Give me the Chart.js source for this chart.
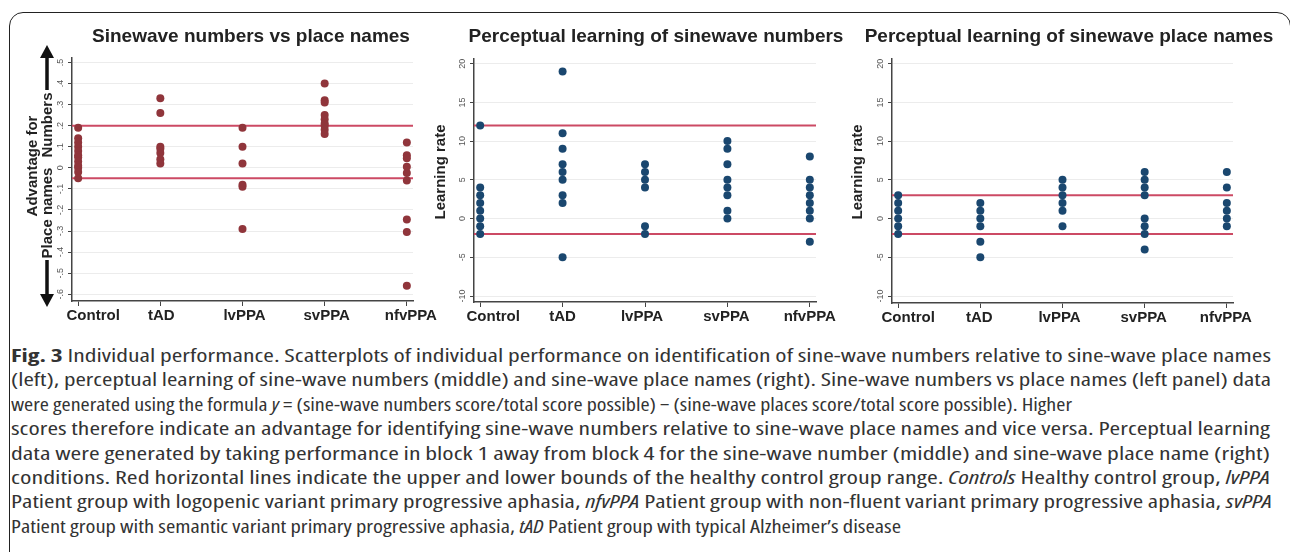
<!DOCTYPE html>
<html lang="en">
<head>
    <meta charset="UTF-8">
    <title>Individual performance</title>
    <script src="https://cdn.jsdelivr.net/npm/chart.js"></script>
    <style>
        body {
            margin: 0;
            width: 1290px;
            height: 552px;
            overflow: hidden;
            background: #fff;
            position: relative;
        }

        .frame {
            position: absolute;
            left: 9px;
            top: 12px;
            width: 1282px;
            height: 700px;
            border: 1.5px solid #222;
            border-radius: 14px;
            box-sizing: border-box;
        }

        canvas {
            position: absolute;
            top: 14px;
        }

        .caption {
            position: absolute;
            left: 11px;
            top: 343px;
            font-family: "Open Sans", sans-serif;
            font-size: 18px;
            font-stretch: 80%;
            color: #333;
        }

        .caption div {
            height: 24.4px;
            line-height: 24.4px;
            white-space: nowrap;
        }

        .caption span.ln {
            display: inline-block;
            transform-origin: left center;
        }
    </style>
</head>
<body>

<div class="frame"></div>

<canvas id="chartAdv" width="430" height="320" style="left: 10px"></canvas>
<canvas id="chartNum" width="440" height="320" style="left: 425px"></canvas>
<canvas id="chartPlace" width="435" height="320" style="left: 850px"></canvas>

<div class="caption" id="caption">
    <div><span class="ln" data-w="1260"><b>Fig. 3</b> Individual performance. Scatterplots of individual performance on identification of sine-wave numbers relative to sine-wave place names</span></div>
    <div><span class="ln" data-w="1260">(left), perceptual learning of sine-wave numbers (middle) and sine-wave place names (right). Sine-wave numbers vs place names (left panel) data</span></div>
    <div><span class="ln" data-w="1061">were generated using the formula <i>y</i> = (sine-wave numbers score/total score possible) − (sine-wave places score/total score possible). Higher</span></div>
    <div><span class="ln" data-w="1259">scores therefore indicate an advantage for identifying sine-wave numbers relative to sine-wave place names and vice versa. Perceptual learning</span></div>
    <div><span class="ln" data-w="1259">data were generated by taking performance in block 1 away from block 4 for the sine-wave number (middle) and sine-wave place name (right)</span></div>
    <div><span class="ln" data-w="1259">conditions. Red horizontal lines indicate the upper and lower bounds of the healthy control group range. <i>Controls</i> Healthy control group, <i>lvPPA</i></span></div>
    <div><span class="ln" data-w="1261">Patient group with logopenic variant primary progressive aphasia, <i>nfvPPA</i> Patient group with non-fluent variant primary progressive aphasia, <i>svPPA</i></span></div>
    <div><span class="ln" data-w="890">Patient group with semantic variant primary progressive aphasia, <i>tAD</i> Patient group with typical Alzheimer’s disease</span></div>
</div>

<script>
    // groups on the x axis
    const groups = ['Control', 'tAD', 'lvPPA', 'svPPA', 'nfvPPA'];

    // left panel: numbers vs place names (one list per group)
    const advControl = [0.19, 0.14, 0.12, 0.10, 0.08, 0.06, 0.05, 0.03, 0.01, 0.00, -0.02, -0.05];
    const advTAD = [0.33, 0.26, 0.10, 0.09, 0.07, 0.04, 0.02];
    const advLvPPA = [0.19, 0.10, 0.02, -0.08, -0.09, -0.29];
    const advSvPPA = [0.40, 0.32, 0.31, 0.25, 0.23, 0.21, 0.20, 0.18, 0.16];
    const advNfvPPA = [0.12, 0.06, 0.045, 0.005, -0.025, -0.06, -0.245, -0.305, -0.56];
    const advRange = [0.2, -0.05];
    const advTicks = [0.5, 0.4, 0.3, 0.2, 0.1, 0, -0.1, -0.2, -0.3, -0.4, -0.5, -0.6];
    const advTickLabels = ['.5', '.4', '.3', '.2', '.1', '0', '-.1', '-.2', '-.3', '-.4', '-.5', '-.6'];

    // middle panel: learning of sinewave numbers
    const numControl = [12, 4, 3, 2, 1, 0, -1, -2];
    const numTAD = [19, 11, 9, 7, 6, 5, 3, 2, -5];
    const numLvPPA = [7, 6, 5, 4, -1, -2];
    const numSvPPA = [10, 9, 7, 5, 4, 3, 1, 0];
    const numNfvPPA = [8, 5, 4, 3, 2, 1, 0, -3];
    const numRange = [12, -2];

    // right panel: learning of sinewave place names
    const plcControl = [3, 2, 1, 0, -1, -2];
    const plcTAD = [2, 1, 0, -1, -3, -5];
    const plcLvPPA = [5, 4, 3, 2, 1, -1];
    const plcSvPPA = [6, 5, 4, 3, 0, -1, -2, -4];
    const plcNfvPPA = [6, 4, 2, 1, 0, -1];
    const plcRange = [3, -2];

    const learnTicks = [20, 15, 10, 5, 0, -5, -10];
    const learnTickLabels = ['20', '15', '10', '5', '0', '-5', '-10'];

    const X_MIN = -0.075;
    const X_MAX = 4.075;
    const FONT = '"Liberation Sans", Arial, sans-serif';

    Chart.defaults.font.family = FONT;

    function drawArrow(ctx, x, from, to) {
        const dir = to < from ? -1 : 1;
        const head = 13;
        ctx.beginPath();
        ctx.lineWidth = 3.5;
        ctx.strokeStyle = '#111';
        ctx.moveTo(x, from);
        ctx.lineTo(x, to - dir * head);
        ctx.stroke();
        ctx.beginPath();
        ctx.fillStyle = '#111';
        ctx.moveTo(x, to);
        ctx.lineTo(x - 7, to - dir * head);
        ctx.lineTo(x + 7, to - dir * head);
        ctx.closePath();
        ctx.fill();
    }

    const panelText = {
        id: 'panelText',
        afterDraw(chart, args, opts) {
            const ctx = chart.ctx;
            const xScale = chart.scales.x;
            const yScale = chart.scales.y;
            const area = chart.chartArea;
            ctx.save();

            // rotated y tick labels
            ctx.font = '9px ' + FONT;
            ctx.fillStyle = '#555';
            ctx.textAlign = 'center';
            ctx.textBaseline = 'middle';
            opts.ticks.forEach((v, i) => {
                ctx.save();
                ctx.translate(area.left - 11.5, yScale.getPixelForValue(v));
                ctx.rotate(-Math.PI / 2);
                ctx.fillText(opts.tickLabels[i], 0, 0);
                ctx.restore();
            });

            // group labels (Stata nudged the first one to the right)
            ctx.font = 'bold 15px ' + FONT;
            ctx.fillStyle = '#222';
            groups.forEach((g, i) => {
                ctx.fillText(g, xScale.getPixelForValue(i) + opts.labelShift[i], area.bottom + 15);
            });

            // panel title
            ctx.font = 'bold 19px ' + FONT;
            ctx.fillText(opts.title, opts.titleX, 23);

            // y axis titles
            ctx.font = 'bold 15px ' + FONT;
            opts.yTitles.forEach(t => {
                ctx.save();
                ctx.translate(t.x, t.y);
                ctx.rotate(-Math.PI / 2);
                ctx.fillText(t.text, 0, 0);
                ctx.restore();
            });

            (opts.arrows || []).forEach(a => drawArrow(ctx, a.x, a.from, a.to));
            ctx.restore();
        }
    };

    function makeChart(id, lists, range, ticks, dotColor, yMin, yMax, padding, text) {
        const points = lists.map((vals, i) => vals.map(v => ({x: i, y: v}))).flat();
        const refLine = v => ({
            type: 'line',
            data: [{x: X_MIN, y: v}, {x: X_MAX, y: v}],
            borderColor: '#cc4a64',
            borderWidth: 2,
            pointRadius: 0,
        });
        return new Chart(document.getElementById(id), {
            type: 'scatter',
            data: {
                datasets: [
                    {
                        data: points,
                        backgroundColor: dotColor,
                        borderColor: dotColor,
                        borderWidth: 0,
                        pointRadius: 4,
                    },
                    refLine(range[0]),
                    refLine(range[1]),
                ],
            },
            options: {
                responsive: false,
                animation: false,
                devicePixelRatio: 1,
                layout: {padding: padding},
                plugins: {
                    legend: {display: false},
                    tooltip: {enabled: false},
                    panelText: text,
                },
                scales: {
                    x: {
                        type: 'linear',
                        min: X_MIN,
                        max: X_MAX,
                        afterBuildTicks: s => {
                            s.ticks = groups.map((g, i) => ({value: i}));
                        },
                        // labels keep their room here but are painted by panelText
                        ticks: {
                            callback: v => groups[v],
                            font: {size: 14.5, weight: 'bold', lineHeight: 1.2},
                            color: 'rgba(0,0,0,0)',
                            padding: 1,
                            maxRotation: 0,
                            autoSkip: false,
                        },
                        grid: {drawOnChartArea: false, tickLength: 5, tickColor: '#444'},
                        border: {color: '#444', width: 1.5},
                    },
                    y: {
                        min: yMin,
                        max: yMax,
                        afterBuildTicks: s => {
                            s.ticks = ticks.map(v => ({value: v}));
                        },
                        ticks: {display: false},
                        grid: {color: '#ececec', tickLength: 4, tickColor: '#444'},
                        border: {color: '#444', width: 1.5},
                    },
                },
            },
            plugins: [panelText],
        });
    }

    makeChart('chartAdv',
        [advControl, advTAD, advLvPPA, advSvPPA, advNfvPPA], advRange, advTicks,
        '#90353b', -0.632, 0.521,
        {left: 58, top: 44, right: 27, bottom: 8.6},
        {
            title: 'Sinewave numbers vs place names', titleX: 241,
            ticks: advTicks, tickLabels: advTickLabels,
            labelShift: [15, 1, 2, 2, 4],
            yTitles: [
                {text: 'Advantage for', x: 23, y: 152},
                {text: 'Numbers', x: 38, y: 111},
                {text: 'Place names', x: 38, y: 199},
            ],
            arrows: [{x: 37, from: 76, to: 31}, {x: 37, from: 246, to: 293}],
        });

    makeChart('chartNum',
        [numControl, numTAD, numLvPPA, numSvPPA, numNfvPPA], numRange, learnTicks,
        '#1a476f', -10.77, 20.6,
        {left: 45, top: 45, right: 49, bottom: 7.6},
        {
            title: 'Perceptual learning of sinewave numbers', titleX: 231,
            ticks: learnTicks, tickLabels: learnTickLabels,
            labelShift: [13, 0, -3, -1, 0],
            yTitles: [{text: 'Learning rate', x: 16, y: 158}],
        });

    makeChart('chartPlace',
        [plcControl, plcTAD, plcLvPPA, plcSvPPA, plcNfvPPA], plcRange, learnTicks,
        '#1a476f', -10.9, 20.6,
        {left: 38, top: 45, right: 52, bottom: 6.6},
        {
            title: 'Perceptual learning of sinewave place names', titleX: 219,
            ticks: learnTicks, tickLabels: learnTickLabels,
            labelShift: [10, -1, -3, -1, -1],
            yTitles: [{text: 'Learning rate', x: 8, y: 158}],
        });

    // squeeze each caption line to the width it has in the figure
    for (const el of document.querySelectorAll('#caption span.ln')) {
        const target = parseFloat(el.dataset.w);
        const natural = el.getBoundingClientRect().width;
        el.style.transform = `scaleX(${target / natural})`;
    }
</script>
</body>
</html>
